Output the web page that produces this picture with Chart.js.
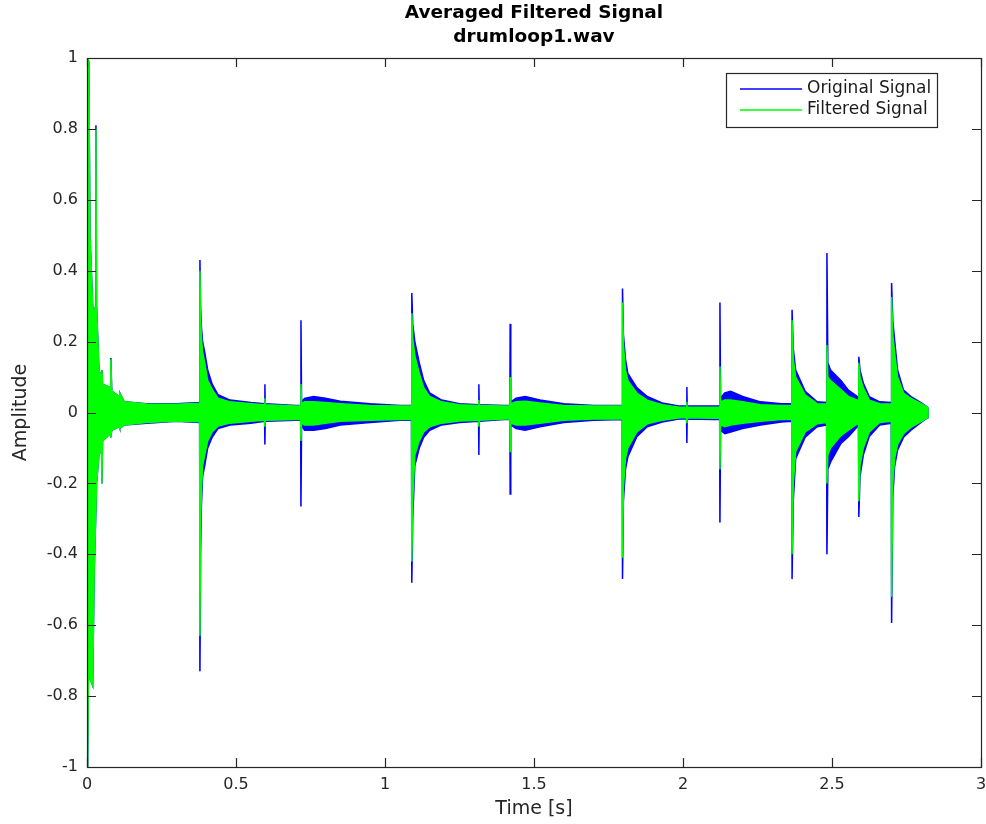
<!DOCTYPE html>
<html>
<head>
<meta charset="utf-8">
<title>Averaged Filtered Signal</title>
<script src="https://cdn.jsdelivr.net/npm/chart.js@4"></script>
<style>
  html, body { margin: 0; padding: 0; background: #fff; }
  #wrap { width: 986px; height: 824px; }
</style>
</head>
<body>
<div id="wrap"><canvas id="signalChart" width="986" height="824"></canvas></div>
<script>
// Envelope of the drum loop (time in s, amplitude -1..1)
// one row per stretch of the recording: intro, hits at ~0.38, ~1.09, ~1.80, ~2.37..2.70
const times = [
  0, 0.002, 0.006, 0.010, 0.019, 0.024, 0.029, 0.030, 0.032, 0.040, 0.049, 0.050, 0.052, 0.078, 0.080, 0.083, 0.108, 0.110, 0.125, 0.200, 0.300, 0.378,
  0.379, 0.381, 0.384, 0.388, 0.395, 0.405, 0.420, 0.440, 0.480, 0.550, 0.596, 0.597, 0.598, 0.700, 0.717, 0.718, 0.720, 0.730, 0.760, 0.800, 0.850, 0.950, 1.050, 1.089,
  1.090, 1.093, 1.100, 1.115, 1.130, 1.150, 1.190, 1.250, 1.314, 1.315, 1.316, 1.400, 1.419, 1.420, 1.422, 1.440, 1.470, 1.520, 1.600, 1.700, 1.796,
  1.797, 1.800, 1.807, 1.815, 1.845, 1.880, 1.930, 1.990, 2.012, 2.013, 2.014, 2.100, 2.123, 2.124, 2.126, 2.140, 2.160, 2.200, 2.260, 2.330, 2.365,
  2.366, 2.370, 2.378, 2.410, 2.450, 2.482, 2.483, 2.486, 2.495, 2.530, 2.555, 2.585, 2.589, 2.590, 2.594, 2.605, 2.625, 2.660, 2.699, 2.700, 2.704, 2.710, 2.720, 2.740, 2.765, 2.800, 2.820, 2.822
];

const origHigh = [
  0, 1.0, 0.99, 0.5, 0.3, 0.28, 0.3, 0.81, 0.3, 0.12, 0.1, 0.12, 0.08, 0.07, 0.154, 0.06, 0.045, 0.055, 0.03, 0.025, 0.025, 0.028,
  0.43, 0.30, 0.24, 0.20, 0.17, 0.12, 0.08, 0.05, 0.035, 0.028, 0.025, 0.08, 0.025, 0.02, 0.02, 0.26, 0.03, 0.04, 0.045, 0.04, 0.032, 0.025, 0.02, 0.02,
  0.337, 0.25, 0.20, 0.14, 0.09, 0.055, 0.035, 0.025, 0.022, 0.08, 0.022, 0.02, 0.02, 0.25, 0.03, 0.04, 0.045, 0.035, 0.025, 0.02, 0.02,
  0.35, 0.22, 0.15, 0.11, 0.07, 0.045, 0.027, 0.018, 0.018, 0.072, 0.018, 0.018, 0.018, 0.31, 0.04, 0.055, 0.06, 0.045, 0.03, 0.025, 0.025,
  0.29, 0.18, 0.12, 0.06, 0.03, 0.028, 0.45, 0.14, 0.12, 0.09, 0.063, 0.045, 0.04, 0.157, 0.12, 0.083, 0.045, 0.03, 0.028, 0.365, 0.26, 0.205, 0.12, 0.063, 0.045, 0.027, 0.015, 0
];
const origLow = [
  0, -1.0, -0.62, -0.75, -0.77, -0.45, -0.3, -0.3, -0.2, -0.12, -0.1, -0.2, -0.08, -0.06, -0.07, -0.05, -0.04, -0.045, -0.035, -0.03, -0.025, -0.028,
  -0.73, -0.40, -0.26, -0.18, -0.15, -0.10, -0.07, -0.045, -0.035, -0.03, -0.025, -0.09, -0.025, -0.022, -0.022, -0.265, -0.035, -0.05, -0.05, -0.045, -0.035, -0.028, -0.022, -0.022,
  -0.48, -0.30, -0.15, -0.10, -0.07, -0.05, -0.035, -0.028, -0.025, -0.12, -0.025, -0.02, -0.02, -0.23, -0.035, -0.045, -0.05, -0.04, -0.028, -0.022, -0.02,
  -0.47, -0.25, -0.16, -0.125, -0.068, -0.04, -0.027, -0.018, -0.018, -0.086, -0.018, -0.02, -0.02, -0.31, -0.05, -0.06, -0.055, -0.045, -0.035, -0.027, -0.025,
  -0.47, -0.25, -0.13, -0.07, -0.04, -0.035, -0.40, -0.16, -0.14, -0.087, -0.068, -0.04, -0.04, -0.295, -0.18, -0.12, -0.068, -0.035, -0.03, -0.594, -0.24, -0.153, -0.106, -0.07, -0.05, -0.027, -0.015, 0
];

const filtHigh = [
  0, 1.0, 0.99, 0.5, 0.3, 0.28, 0.3, 0.80, 0.3, 0.12, 0.1, 0.12, 0.08, 0.07, 0.15, 0.06, 0.045, 0.055, 0.03, 0.024, 0.023, 0.026,
  0.40, 0.27, 0.21, 0.17, 0.14, 0.09, 0.065, 0.04, 0.03, 0.025, 0.022, 0.04, 0.022, 0.018, 0.018, 0.08, 0.025, 0.03, 0.03, 0.028, 0.025, 0.02, 0.018, 0.018,
  0.28, 0.21, 0.16, 0.11, 0.07, 0.045, 0.03, 0.022, 0.02, 0.035, 0.02, 0.018, 0.018, 0.10, 0.025, 0.03, 0.032, 0.027, 0.02, 0.018, 0.018,
  0.31, 0.19, 0.12, 0.09, 0.055, 0.035, 0.022, 0.015, 0.015, 0.03, 0.015, 0.015, 0.015, 0.13, 0.03, 0.035, 0.035, 0.03, 0.022, 0.02, 0.02,
  0.26, 0.15, 0.10, 0.05, 0.025, 0.024, 0.19, 0.10, 0.09, 0.065, 0.045, 0.035, 0.032, 0.14, 0.10, 0.07, 0.035, 0.025, 0.024, 0.326, 0.22, 0.17, 0.10, 0.055, 0.04, 0.025, 0.015, 0
];
const filtLow = [
  0, -1.0, -0.62, -0.75, -0.77, -0.45, -0.3, -0.3, -0.2, -0.12, -0.1, -0.2, -0.08, -0.06, -0.07, -0.05, -0.04, -0.045, -0.035, -0.028, -0.024, -0.026,
  -0.63, -0.33, -0.22, -0.15, -0.12, -0.08, -0.055, -0.038, -0.03, -0.025, -0.022, -0.04, -0.022, -0.02, -0.02, -0.08, -0.03, -0.035, -0.035, -0.03, -0.025, -0.022, -0.02, -0.02,
  -0.42, -0.25, -0.12, -0.08, -0.055, -0.04, -0.03, -0.024, -0.022, -0.04, -0.022, -0.018, -0.018, -0.11, -0.03, -0.035, -0.035, -0.03, -0.022, -0.018, -0.018,
  -0.41, -0.21, -0.13, -0.10, -0.055, -0.032, -0.022, -0.015, -0.015, -0.03, -0.015, -0.016, -0.016, -0.16, -0.035, -0.04, -0.035, -0.03, -0.025, -0.02, -0.02,
  -0.40, -0.20, -0.11, -0.055, -0.032, -0.028, -0.20, -0.12, -0.10, -0.065, -0.05, -0.032, -0.032, -0.25, -0.15, -0.10, -0.055, -0.028, -0.025, -0.52, -0.20, -0.13, -0.09, -0.06, -0.042, -0.025, -0.015, 0
];

const seriesNames = ['Original Signal', 'Filtered Signal'];
const xTicks = [0, 0.5, 1, 1.5, 2, 2.5, 3];
const yTicks = [-1, -0.8, -0.6, -0.4, -0.2, 0, 0.2, 0.4, 0.6, 0.8, 1];

const FONT = "'DejaVu Sans', sans-serif";
const AXIS = '#262626';
const BLUE = '#0000ff';
const GREEN = '#00ff00';

function pts(values) {
  return times.map(function(t, i) { return { x: t, y: values[i] }; });
}

function fmt(v) {
  return String(+Number(v).toFixed(1));
}

// box round the axes with inward ticks on all four sides (matlab look)
const axesBox = {
  id: 'axesBox',
  afterDatasetsDraw: function(chart) {
    const ctx = chart.ctx;
    const a = chart.chartArea;
    const xs = chart.scales.x, ys = chart.scales.y;
    const len = 9;
    ctx.save();
    ctx.strokeStyle = AXIS;
    ctx.lineWidth = 1.2;
    ctx.strokeRect(Math.round(a.left) + 0.5, Math.round(a.top) + 0.5,
      Math.round(a.right - a.left), Math.round(a.bottom - a.top));
    ctx.beginPath();
    xTicks.forEach(function(v) {
      const px = Math.round(xs.getPixelForValue(v)) + 0.5;
      ctx.moveTo(px, a.bottom); ctx.lineTo(px, a.bottom - len);
      ctx.moveTo(px, a.top); ctx.lineTo(px, a.top + len);
    });
    yTicks.forEach(function(v) {
      const py = Math.round(ys.getPixelForValue(v)) + 0.5;
      ctx.moveTo(a.left, py); ctx.lineTo(a.left + len, py);
      ctx.moveTo(a.right, py); ctx.lineTo(a.right - len, py);
    });
    ctx.stroke();
    ctx.restore();
  }
};

// legend in a framed box at the top right of the axes
const boxLegend = {
  id: 'boxLegend',
  afterDraw: function(chart) {
    const ctx = chart.ctx;
    const a = chart.chartArea;
    const w = 211, h = 54;
    const x0 = Math.round(a.right - 255), y0 = Math.round(a.top + 15);
    const colors = [BLUE, GREEN];
    ctx.save();
    ctx.fillStyle = '#fff';
    ctx.fillRect(x0, y0, w, h);
    ctx.strokeStyle = AXIS;
    ctx.lineWidth = 1.2;
    ctx.strokeRect(x0 + 0.5, y0 + 0.5, w, h);
    seriesNames.forEach(function(name, i) {
      const y = y0 + 16 + i * 21;
      ctx.strokeStyle = colors[i];
      ctx.lineWidth = 1.5;
      ctx.beginPath();
      ctx.moveTo(x0 + 14, y);
      ctx.lineTo(x0 + 76, y);
      ctx.stroke();
      ctx.fillStyle = '#1a1a1a';
      ctx.font = '17px ' + FONT;
      ctx.textBaseline = 'middle';
      ctx.textAlign = 'left';
      ctx.fillText(name, x0 + 81, y);
    });
    ctx.restore();
  }
};

function band(values, color, fill) {
  return {
    data: pts(values),
    borderColor: color,
    backgroundColor: color,
    borderWidth: 1.5,
    pointRadius: 0,
    tension: 0,
    fill: fill
  };
}

// first dataset is drawn on top, so the filtered band goes first
const datasets = [
  Object.assign(band(filtHigh, GREEN, '+1'), { label: seriesNames[1] }),
  band(filtLow, GREEN, false),
  Object.assign(band(origHigh, BLUE, '+1'), { label: seriesNames[0] }),
  band(origLow, BLUE, false)
];

const ctx = document.getElementById('signalChart').getContext('2d');
new Chart(ctx, {
  type: 'line',
  data: { datasets: datasets },
  plugins: [axesBox, boxLegend],
  options: {
    responsive: false,
    animation: false,
    events: [],
    layout: { padding: { left: 0, right: 5, top: 0, bottom: 0 } },
    plugins: {
      legend: { display: false },
      tooltip: { enabled: false },
      title: {
        display: true,
        text: ['Averaged Filtered Signal', 'drumloop1.wav'],
        fullSize: false,
        color: '#000',
        font: { family: FONT, size: 18.5, weight: 'bold', lineHeight: 24 / 18.5 },
        padding: { top: 1, bottom: 9 }
      }
    },
    scales: {
      x: {
        type: 'linear',
        min: 0,
        max: 3,
        afterFit: function(s) {
          s.height = 57;
          s.paddingLeft = 0;
          s.paddingRight = 0;
        },
        afterBuildTicks: function(s) { s.ticks = xTicks.map(function(v) { return { value: v }; }); },
        grid: { display: false, drawTicks: false },
        border: { display: false },
        ticks: {
          padding: 8,
          color: AXIS,
          font: { family: FONT, size: 16 },
          maxRotation: 0,
          callback: fmt
        },
        title: {
          display: true,
          text: 'Time [s]',
          color: AXIS,
          font: { family: FONT, size: 19 },
          padding: { top: 0, bottom: 4 }
        }
      },
      y: {
        type: 'linear',
        min: -1,
        max: 1,
        afterFit: function(s) {
          s.width = 87;
          s.paddingTop = 0;
          s.paddingBottom = 0;
        },
        afterBuildTicks: function(s) { s.ticks = yTicks.map(function(v) { return { value: v }; }); },
        grid: { display: false, drawTicks: false },
        border: { display: false },
        ticks: {
          padding: 9,
          color: AXIS,
          font: { family: FONT, size: 16 },
          callback: fmt
        },
        title: {
          display: true,
          text: 'Amplitude',
          color: AXIS,
          font: { family: FONT, size: 19 },
          padding: { top: 10, bottom: 0 }
        }
      }
    }
  }
});
</script>
</body>
</html>
